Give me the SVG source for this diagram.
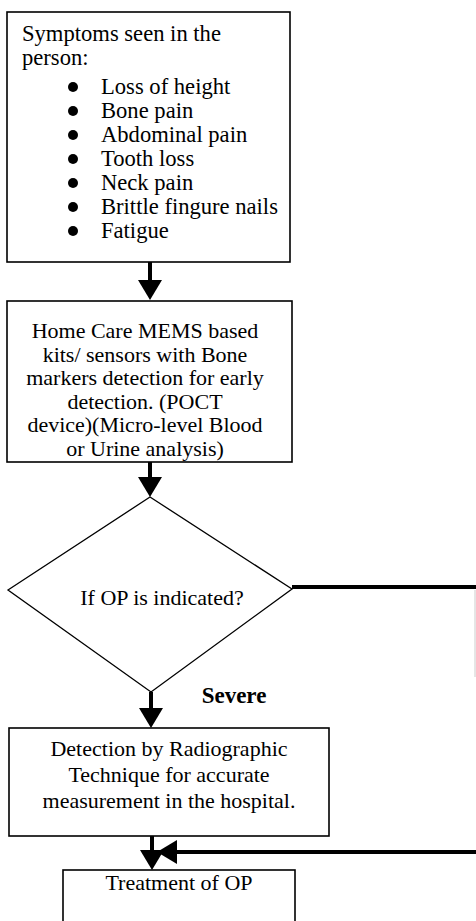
<svg xmlns="http://www.w3.org/2000/svg" width="476" height="921" viewBox="0 0 476 921">
<defs>
<style>
text{font-family:"Liberation Serif","Times New Roman",serif;fill:#000;}
.t1{font-size:22.6px;}
.t{font-size:22px;}
.t2{font-size:22px;}
.c{text-anchor:middle;}
.box{fill:#fff;stroke:#000;stroke-width:1.6;}
.dia{fill:#fff;stroke:#000;stroke-width:1.3;}
.con{fill:none;stroke:#000;stroke-width:4;}
</style>
<marker id="ah" markerUnits="userSpaceOnUse" markerWidth="20" markerHeight="24" refX="10" refY="12" orient="auto">
<path d="M0,0 L20,12 L0,24 z" fill="#000"/>
</marker>
</defs>
<rect width="476" height="921" fill="#fff"/>

<g id="symptoms">
<rect class="box" x="7" y="12" width="283" height="250"/>
<text class="t1" x="22" y="41">Symptoms seen in the</text>
<text class="t1" x="22" y="65">person:</text>
<g>
<circle cx="73" cy="87" r="5"/>
<circle cx="73" cy="111" r="5"/>
<circle cx="73" cy="135" r="5"/>
<circle cx="73" cy="159" r="5"/>
<circle cx="73" cy="183" r="5"/>
<circle cx="73" cy="207" r="5"/>
<circle cx="73" cy="231" r="5"/>
</g>
<text class="t1" x="101" y="94">Loss of height</text>
<text class="t1" x="101" y="118">Bone pain</text>
<text class="t1" x="101" y="142">Abdominal pain</text>
<text class="t1" x="101" y="166">Tooth loss</text>
<text class="t1" x="101" y="190">Neck pain</text>
<text class="t1" x="101" y="214">Brittle fingure nails</text>
<text class="t1" x="101" y="238">Fatigue</text>
</g>

<g id="homecare">
<rect class="box" x="7" y="301" width="285" height="161"/>
<text class="t c" x="145" y="338">Home Care MEMS based</text>
<text class="t c" x="145" y="361.5">kits/ sensors with Bone</text>
<text class="t c" x="145" y="385">markers detection for early</text>
<text class="t c" x="145" y="408.5">detection. (POCT</text>
<text class="t c" x="145" y="432">device)(Micro-level Blood</text>
<text class="t c" x="145" y="455.5">or Urine analysis)</text>
</g>

<g id="decision">
<polygon class="dia" points="150,497 292,589 151,692 8,590"/>
<text class="t2 c" x="162" y="605">If OP is indicated?</text>
</g>

<g id="radiographic">
<rect class="box" x="9" y="728" width="320" height="108"/>
<text class="t2 c" x="169" y="756">Detection by Radiographic</text>
<text class="t2 c" x="169" y="782">Technique for accurate</text>
<text class="t2 c" x="169" y="808">measurement in the hospital.</text>
</g>

<g id="treatment">
<rect class="box" x="63" y="870" width="232" height="60"/>
<text class="t2 c" x="179" y="890">Treatment of OP</text>
</g>

<g id="connectors">
<line class="con" x1="150" y1="262" x2="150" y2="290" marker-end="url(#ah)"/>
<line class="con" x1="150" y1="462" x2="150" y2="487" marker-end="url(#ah)"/>
<line class="con" x1="151" y1="692" x2="151" y2="718" marker-end="url(#ah)"/>
<line class="con" x1="152" y1="836" x2="152" y2="860" marker-end="url(#ah)"/>
<line class="con" x1="292" y1="587" x2="476" y2="587"/>
<line class="con" x1="476" y1="852" x2="167" y2="852" marker-end="url(#ah)"/>
<line x1="475" y1="590" x2="475" y2="677" stroke="#ccc" stroke-width="1"/>
<text x="234" y="703" style="font-size:23px;font-weight:bold;text-anchor:middle">Severe</text>
</g>
</svg>
